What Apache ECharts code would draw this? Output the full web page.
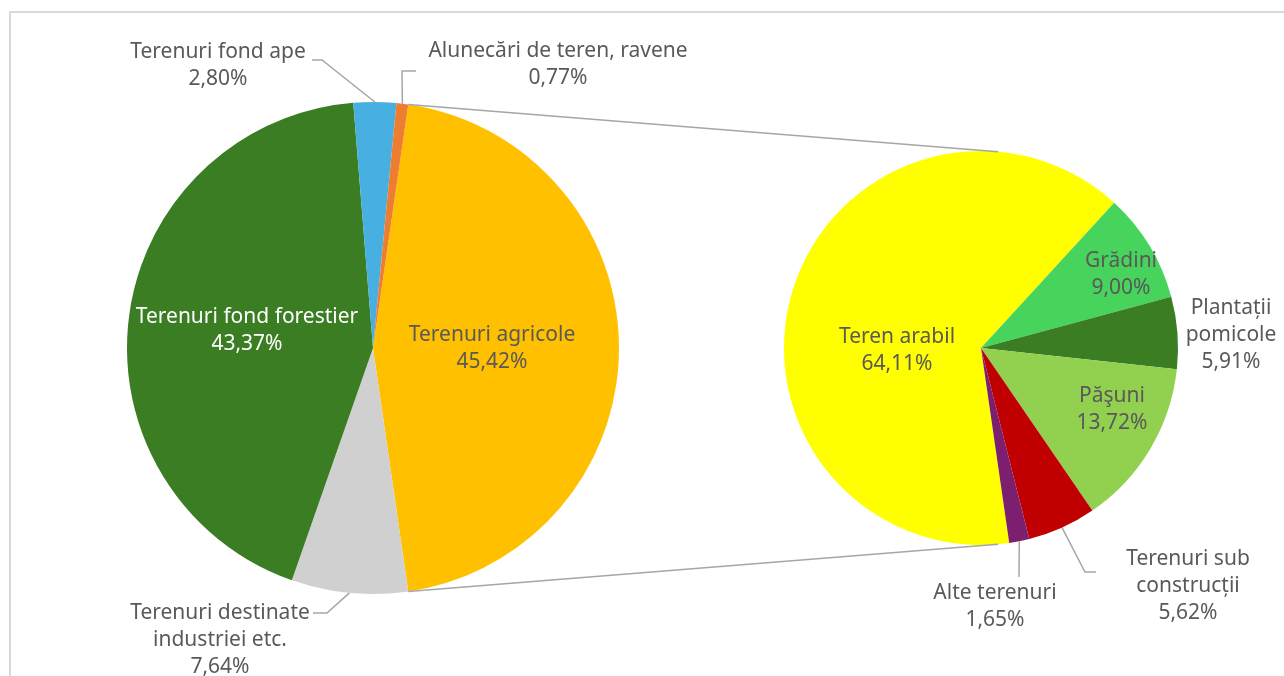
<!DOCTYPE html>
<html>
<head>
<meta charset="utf-8">
<script src="https://cdn.jsdelivr.net/npm/echarts@6/dist/echarts.min.js"></script>
<style>
  html, body { margin: 0; padding: 0; background: #fff; }
  #chart { width: 1284px; height: 676px; }
</style>
</head>
<body>
<div id="chart"></div>
<script>
// fond funciar - structura pe categorii de folosinta (%)
var mainNames = ['Terenuri agricole', 'Terenuri destinate industriei etc.', 'Terenuri fond forestier', 'Terenuri fond ape', 'Alunecări de teren, ravene'];
var mainLabels = ['Terenuri agricole', 'Terenuri destinate\nindustriei etc.', 'Terenuri fond forestier', 'Terenuri fond ape', 'Alunecări de teren, ravene'];
var mainValues = [45.42, 7.64, 43.37, 2.80, 0.77];

// detaliere terenuri agricole (%)
var agriNames = ['Teren arabil', 'Grădini', 'Plantații pomicole', 'Păşuni', 'Terenuri sub construcții', 'Alte terenuri'];
var agriLabels = ['Teren arabil', 'Grădini', 'Plantații\npomicole', 'Păşuni', 'Terenuri sub\nconstrucții', 'Alte terenuri'];
var agriValues = [64.11, 9.00, 5.91, 13.72, 5.62, 1.65];

var mainColors = ['#ffc000', '#d0d0d0', '#3b7d23', '#47b0e0', '#ed7d31'];
var agriColors = ['#ffff00', '#47d45d', '#3b7d23', '#92d050', '#c00000', '#7b1f6e'];

// geometrie
var C1 = [373, 348], R1 = 246;
var C2 = [981, 348], R2 = 197;
var FONT = 'Noto Sans';

function sum(a) { return a.reduce(function (s, v) { return s + v; }, 0); }
// felia agricola centrata pe ora 3
var half = mainValues[0] / sum(mainValues) * 180;
var start1 = half;
var start2 = 360 - half;

// pozitii etichete fata de centrul pieului; line = cotul / capatul liniei de legatura
var place = [
  [
    { x: 119, y: 1, inside: true },
    { x: -153, y: 292, line: [[-46, 265], [-60, 265]] },
    { x: -126, y: -17, inside: true, white: true },
    { x: -155, y: -282, line: [[-51, -288], [-61, -288]] },
    { x: 185, y: -283, line: [[29, -277], [43, -277]] }
  ],
  [
    { x: -84, y: 3, inside: true },
    { x: 140, y: -73, inside: true },
    { x: 250, y: -13, noLine: true },
    { x: 131, y: 62, inside: true },
    { x: 207, y: 238, line: [[104, 224], [115, 224]] },
    { x: 14, y: 259, line: [[38, 229]] }
  ]
];

function fmt(v) { return v.toFixed(2).replace('.', ',') + '%'; }

function edgePoint(values, idx, startAngle, c, r) {
  var tot = sum(values), before = sum(values.slice(0, idx));
  var a = (startAngle - (before + values[idx] / 2) / tot * 360) * Math.PI / 180;
  return [c[0] + r * Math.cos(a), c[1] - r * Math.sin(a)];
}

function buildData(names, labels, values, colors, si) {
  return values.map(function (v, i) {
    var p = place[si][i];
    return {
      name: names[i],
      value: v,
      itemStyle: { color: colors[i] },
      label: {
        position: p.inside ? 'inside' : 'outside',
        color: p.white ? '#ffffff' : '#595959',
        formatter: labels[i] + '\n' + fmt(v)
      },
      labelLine: { show: !p.inside && !p.noLine }
    };
  });
}

function makeLayout(si, values, startAngle, c, r) {
  return function (params) {
    var i = params.dataIndex;
    var p = place[si][i];
    var res = { x: c[0] + p.x, y: c[1] + p.y, align: 'center', verticalAlign: 'middle' };
    if (p.line) {
      var pts = [edgePoint(values, i, startAngle, c, r)];
      p.line.forEach(function (q) {
        pts.push([c[0] + q[0], c[1] + q[1]]);
      });
      res.labelLinePoints = pts;
    }
    return res;
  };
}

var chart = echarts.init(document.getElementById('chart'));

var labelBase = {
  fontFamily: FONT,
  fontSize: 21,
  lineHeight: 27,
  align: 'center'
};

var a1 = half * Math.PI / 180, a2 = 85 * Math.PI / 180;
var topL = [C1[0] + R1 * Math.cos(a1), C1[1] - R1 * Math.sin(a1)];
var botL = [C1[0] + R1 * Math.cos(a1), C1[1] + R1 * Math.sin(a1)];
var topR = [C2[0] + R2 * Math.cos(a2), C2[1] - R2 * Math.sin(a2)];
var botR = [C2[0] + R2 * Math.cos(a2), C2[1] + R2 * Math.sin(a2)];

chart.setOption({
  animation: false,
  backgroundColor: '#ffffff',
  graphic: [
    { type: 'rect', shape: { x: 10, y: 12, width: 1300, height: 700 }, style: { fill: 'none', stroke: '#d9d9d9', lineWidth: 2 }, silent: true },
    { type: 'line', shape: { x1: topL[0], y1: topL[1], x2: topR[0], y2: topR[1] }, style: { stroke: '#a6a6a6', lineWidth: 1.5 }, silent: true, z: 10 },
    { type: 'line', shape: { x1: botL[0], y1: botL[1], x2: botR[0], y2: botR[1] }, style: { stroke: '#a6a6a6', lineWidth: 1.5 }, silent: true, z: 10 }
  ],
  series: [
    {
      name: 'Fond funciar',
      type: 'pie',
      center: C1,
      radius: R1,
      startAngle: start1,
      clockwise: true,
      avoidLabelOverlap: false,
      emphasis: { disabled: true },
      label: labelBase,
      labelLine: { lineStyle: { color: '#a6a6a6', width: 1.5 } },
      labelLayout: makeLayout(0, mainValues, start1, C1, R1),
      data: buildData(mainNames, mainLabels, mainValues, mainColors, 0)
    },
    {
      name: 'Terenuri agricole',
      type: 'pie',
      center: C2,
      radius: R2,
      startAngle: start2,
      clockwise: true,
      avoidLabelOverlap: false,
      emphasis: { disabled: true },
      label: labelBase,
      labelLine: { lineStyle: { color: '#a6a6a6', width: 1.5 } },
      labelLayout: makeLayout(1, agriValues, start2, C2, R2),
      data: buildData(agriNames, agriLabels, agriValues, agriColors, 1)
    }
  ]
});
</script>
</body>
</html>
